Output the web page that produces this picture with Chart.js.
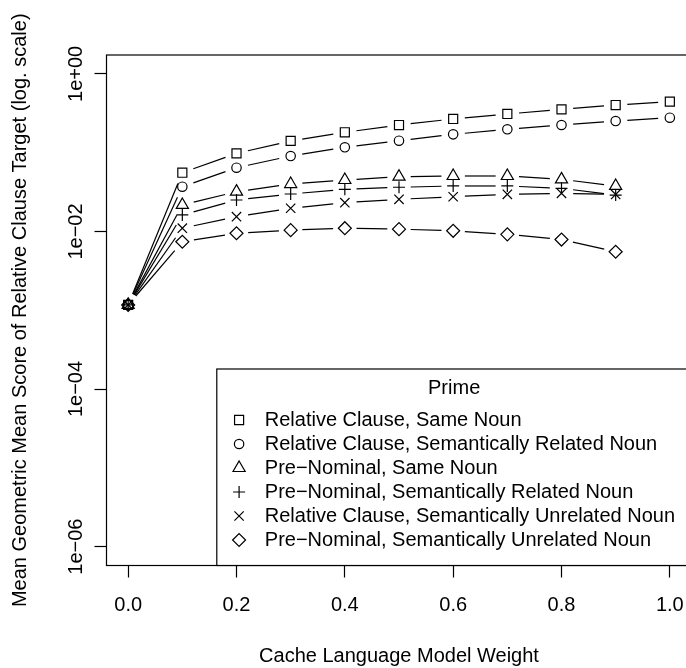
<!DOCTYPE html>
<html>
<head>
<meta charset="utf-8">
<script src="https://cdn.jsdelivr.net/npm/chart.js@4/dist/chart.umd.min.js"></script>
<style>
  html, body { margin: 0; padding: 0; overflow: hidden; background: #fff; }
  canvas { display: block; }
</style>
</head>
<body>
<canvas id="c" width="700" height="668"></canvas>
<script>
// Cache language model weight (x) and geometric mean scores per prime condition (log y)
const weights = [0.0, 0.1, 0.2, 0.3, 0.4, 0.5, 0.6, 0.7, 0.8, 0.9, 1.0];

const rcSameNoun       = [0.00117, 0.0557, 0.098, 0.141, 0.1815, 0.2246, 0.268, 0.31, 0.355, 0.403, 0.444];
const rcRelatedNoun    = [0.00117, 0.037, 0.0645, 0.0907, 0.117, 0.142, 0.171, 0.198, 0.2245, 0.252, 0.278];
const pnSameNoun       = [0.00117, 0.0217, 0.032, 0.040, 0.045, 0.0496, 0.0506, 0.0506, 0.0459, 0.0378];
const pnRelatedNoun    = [0.00117, 0.0162, 0.0251, 0.0299, 0.0343, 0.0364, 0.0378, 0.0378, 0.0353, 0.029];
const rcUnrelatedNoun  = [0.00117, 0.011, 0.0154, 0.0197, 0.0232, 0.0256, 0.0276, 0.0296, 0.0305, 0.0295];
const pnUnrelatedNoun  = [0.00117, 0.0074, 0.0095, 0.0104, 0.011, 0.0107, 0.0102, 0.0092, 0.0079, 0.00553];

const seriesLabels = [
  'Relative Clause, Same Noun',
  'Relative Clause, Semantically Related Noun',
  'Pre\u2212Nominal, Same Noun',
  'Pre\u2212Nominal, Semantically Related Noun',
  'Relative Clause, Semantically Unrelated Noun',
  'Pre\u2212Nominal, Semantically Unrelated Noun'
];

const xTickValues = [0.0, 0.2, 0.4, 0.6, 0.8, 1.0];
const yTickValues = [1, 1e-2, 1e-4, 1e-6];
const yTickLabels = ['1e+00', '1e\u221202', '1e\u221204', '1e\u221206'];

const xTitle = 'Cache Language Model Weight';
const yTitle = 'Mean Geometric Mean Score of Relative Clause Target (log. scale)';
const legendTitle = 'Prime';

// marker shapes, one per series
const markers = [
  { style: 'rect',     radius: 6.4 },
  { style: 'circle',   radius: 4.7 },
  { style: 'triangle', radius: 7.0 },
  { style: 'cross',    radius: 6.0 },
  { style: 'crossRot', radius: 6.6 },
  { style: 'rectRot',  radius: 6.5 }
];

const FONT = '"Liberation Sans", Arial, Helvetica, sans-serif';
Chart.defaults.font.family = FONT;
Chart.defaults.color = '#000';

const seriesValues = [rcSameNoun, rcRelatedNoun, pnSameNoun, pnRelatedNoun, rcUnrelatedNoun, pnUnrelatedNoun];

const datasets = seriesValues.map((vals, i) => ({
  label: seriesLabels[i],
  data: vals.map((v, j) => ({ x: weights[j], y: v })),
  showLine: false,
  pointStyle: markers[i].style,
  pointRadius: markers[i].radius,
  pointHoverRadius: markers[i].radius,
  pointBorderWidth: 1.2,
  pointBorderColor: '#000',
  pointBackgroundColor: 'rgba(0,0,0,0)'
}));

// "both" style connectors: line segments that stop short of each marker
const gappedLines = {
  id: 'gappedLines',
  afterDatasetsDraw(chart) {
    const ctx = chart.ctx;
    const gap = 11.7;
    ctx.save();
    ctx.strokeStyle = '#000';
    ctx.lineWidth = 1.2;
    chart.data.datasets.forEach((ds, di) => {
      const pts = chart.getDatasetMeta(di).data;
      for (let k = 0; k + 1 < pts.length; k++) {
        const p = pts[k], q = pts[k + 1];
        const dx = q.x - p.x, dy = q.y - p.y;
        const len = Math.hypot(dx, dy);
        if (len <= 2 * gap) continue;
        const ux = dx / len, uy = dy / len;
        ctx.beginPath();
        ctx.moveTo(p.x + ux * gap, p.y + uy * gap);
        ctx.lineTo(q.x - ux * gap, q.y - uy * gap);
        ctx.stroke();
      }
    });
    ctx.restore();
  }
};

// plot frame, rotated y tick labels and the legend box
const frameAndLegend = {
  id: 'frameAndLegend',
  afterDraw(chart) {
    const ctx = chart.ctx;
    const a = chart.chartArea;
    const ys = chart.scales.y;
    ctx.save();

    // frame
    ctx.strokeStyle = '#000';
    ctx.lineWidth = 1.2;
    ctx.strokeRect(a.left, a.top, a.right - a.left, a.bottom - a.top);

    // y tick labels, reading upwards
    ctx.fillStyle = '#000';
    ctx.font = '20px ' + FONT;
    ctx.textAlign = 'center';
    ctx.textBaseline = 'alphabetic';
    ys.ticks.forEach(t => {
      const idx = yTickValues.indexOf(t.value);
      if (idx < 0) return;
      const py = ys.getPixelForValue(t.value);
      ctx.save();
      ctx.translate(a.left - 25, py);
      ctx.rotate(-Math.PI / 2);
      ctx.fillText(yTickLabels[idx], 0, 0);
      ctx.restore();
    });

    // legend
    const maxW = Math.max(...seriesLabels.map(s => ctx.measureText(s).width));
    const right = a.right, bottom = a.bottom;
    const left = right - maxW - 64.5;
    const top = bottom - 196.5;
    ctx.fillStyle = '#fff';
    ctx.fillRect(left, top, right - left, bottom - top);
    ctx.strokeRect(left, top, right - left, bottom - top);

    ctx.fillStyle = '#000';
    ctx.textBaseline = 'middle';
    ctx.textAlign = 'center';
    ctx.fillText(legendTitle, (left + right) / 2, top + 19);

    ctx.textAlign = 'left';
    seriesLabels.forEach((s, i) => {
      const y = top + 51 + 24 * i;
      ctx.strokeStyle = '#000';
      ctx.fillStyle = 'rgba(0,0,0,0)';
      ctx.lineWidth = 1.2;
      Chart.helpers.drawPoint(ctx, {
        pointStyle: markers[i].style,
        radius: markers[i].radius,
        rotation: 0,
        borderWidth: 1.2
      }, left + 22.3, y);
      ctx.fillStyle = '#000';
      ctx.fillText(s, left + 48, y);
    });

    ctx.restore();
  }
};

new Chart(document.getElementById('c'), {
  type: 'line',
  data: { datasets },
  options: {
    responsive: false,
    animation: false,
    events: [],
    layout: { padding: { left: 0, top: 55, right: 8.5, bottom: 0 } },
    plugins: { legend: { display: false }, tooltip: { enabled: false } },
    scales: {
      x: {
        type: 'linear',
        position: 'bottom',
        min: -0.04,
        max: 1.04,
        afterBuildTicks(s) { s.ticks = xTickValues.map(v => ({ value: v })); },
        afterFit(s) { s.height = 102.5; },
        border: { display: false },
        grid: { drawOnChartArea: false, drawTicks: true, tickLength: 12, tickWidth: 1.2, tickColor: '#000' },
        ticks: {
          autoSkip: false, maxRotation: 0, minRotation: 0,
          padding: 15.5,
          font: { size: 20 }, color: '#000',
          callback: v => Number(v).toFixed(1)
        },
        title: { display: true, text: xTitle, font: { size: 20 }, color: '#000', padding: { top: 0, bottom: 0 } }
      },
      y: {
        type: 'logarithmic',
        position: 'left',
        min: Math.pow(10, -6.24),
        max: Math.pow(10, 0.24),
        afterBuildTicks(s) { s.ticks = yTickValues.map(v => ({ value: v })); },
        afterFit(s) { s.width = 106.5; },
        border: { display: false },
        grid: { drawOnChartArea: false, drawTicks: true, tickLength: 12, tickWidth: 1.2, tickColor: '#000' },
        ticks: { display: false },
        title: { display: true, text: yTitle, font: { size: 20 }, color: '#000', padding: { top: 8, bottom: 0 } }
      }
    }
  },
  plugins: [gappedLines, frameAndLegend]
});
</script>
</body>
</html>
